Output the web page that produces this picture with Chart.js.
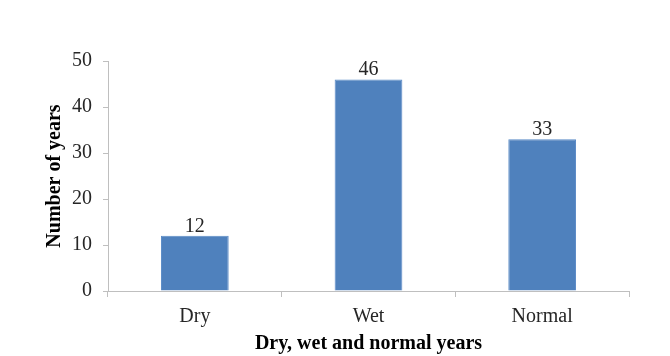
<!DOCTYPE html>
<html>
<head>
<meta charset="utf-8">
<script src="https://cdn.jsdelivr.net/npm/chart.js@4.4.1/dist/chart.umd.min.js"></script>
<style>
    html, body { margin: 0; padding: 0; background: #fff; }
    #wrap { width: 670px; height: 356px; position: relative; }
</style>
</head>
<body>
<div id="wrap"><canvas id="yearsChart"></canvas></div>
<script>
const categories = ["Dry", "Wet", "Normal"];
const yearCounts = [12, 46, 33];
const yTicks = [0, 10, 20, 30, 40, 50];

const serif = "'Liberation Serif', 'Times New Roman', serif";

// draws the value above each bar
const valueLabels = {
    id: "valueLabels",
    afterDatasetsDraw(chart) {
        const ctx = chart.ctx;
        const meta = chart.getDatasetMeta(0);
        ctx.save();
        ctx.font = "20px " + serif;
        ctx.fillStyle = "#262626";
        ctx.textAlign = "center";
        ctx.textBaseline = "alphabetic";
        meta.data.forEach((bar, i) => {
            ctx.fillText(String(yearCounts[i]), bar.x, bar.y - 4);
        });
        ctx.restore();
    }
};

document.addEventListener("DOMContentLoaded", function () {
    const ctx = document.getElementById("yearsChart").getContext("2d");

    new Chart(ctx, {
        type: "bar",
        data: {
            labels: categories,
            datasets: [{
                data: yearCounts,
                backgroundColor: "#4f81bd",
                borderColor: "#5a8ac6",
                borderWidth: 1,
                categoryPercentage: 1,
                barPercentage: 0.39
            }]
        },
        options: {
            responsive: true,
            maintainAspectRatio: false,
            animation: false,
            layout: { padding: { top: 61, right: 41, bottom: 0, left: 0 } },
            plugins: {
                legend: { display: false },
                tooltip: { enabled: false }
            },
            scales: {
                x: {
                    grid: { display: true, drawOnChartArea: false, color: "#bfbfbf", tickLength: 6 },
                    border: { color: "#bfbfbf" },
                    ticks: { color: "#262626", font: { family: serif, size: 20 }, padding: 8 },
                    title: {
                        display: true,
                        text: "Dry, wet and normal years",
                        color: "#000",
                        font: { family: serif, size: 20, weight: "bold" },
                        padding: { top: 0, bottom: 0 }
                    },
                    afterFit(scale) { scale.height = 65; }
                },
                y: {
                    min: 0,
                    max: 50,
                    afterBuildTicks(scale) { scale.ticks = yTicks.map(v => ({ value: v })); },
                    grid: { display: true, drawOnChartArea: false, color: "#bfbfbf", tickLength: 5 },
                    border: { color: "#bfbfbf" },
                    ticks: { color: "#262626", font: { family: serif, size: 20 }, padding: 11 },
                    title: {
                        display: true,
                        text: "Number of years",
                        color: "#000",
                        font: { family: serif, size: 20, weight: "bold" },
                        padding: { top: 43, bottom: 0 }
                    },
                    afterFit(scale) { scale.width = 108; }
                }
            }
        },
        plugins: [valueLabels]
    });
});
</script>
</body>
</html>
